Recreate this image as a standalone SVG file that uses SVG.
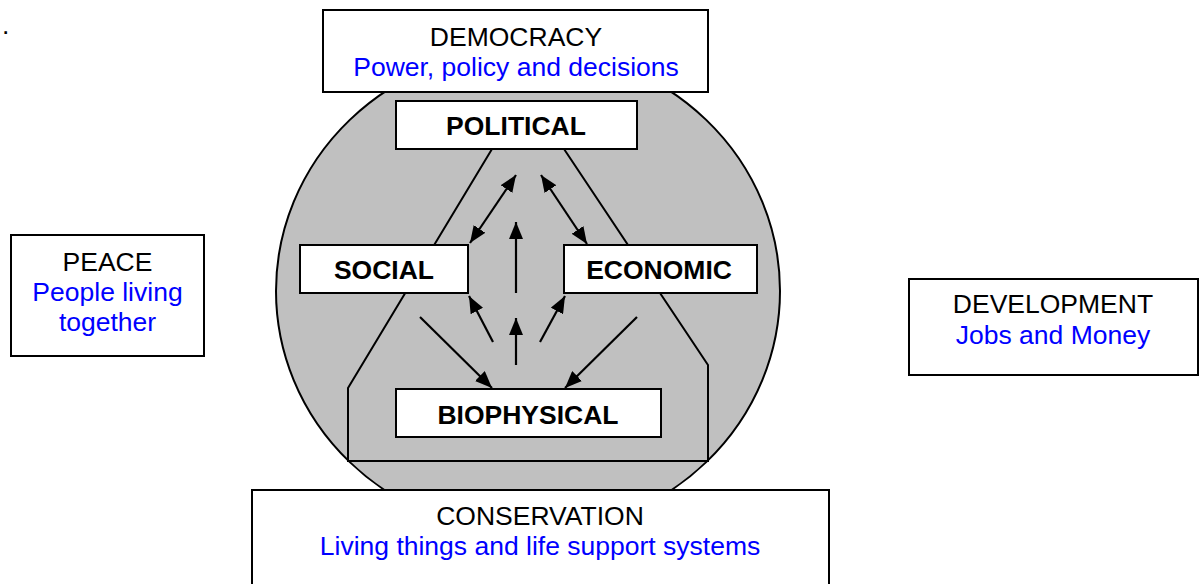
<svg xmlns="http://www.w3.org/2000/svg" width="1202" height="584" viewBox="0 0 1202 584">
<style>
  .box { fill: #ffffff; stroke: #000000; stroke-width: 2; }
  .t { font-family: "Liberation Sans", Arial, sans-serif; font-size: 26.5px; text-anchor: middle; fill: #000000; }
  .b { font-weight: bold; }
  .blue { fill: #0000ff; }
  .edge { stroke: #000000; stroke-width: 2.2; fill: none; }
</style>
<defs>
  <marker id="ah" markerUnits="userSpaceOnUse" markerWidth="18" markerHeight="14" refX="17" refY="7" orient="auto-start-reverse" viewBox="0 0 18 14">
    <path d="M0,0 L17,7 L0,14 Z" fill="#000000"/>
  </marker>
</defs>
<rect x="0" y="0" width="1202" height="584" fill="#ffffff"/>
<text class="t" x="2" y="34" style="text-anchor:start">.</text>

<g id="sphere">
  <ellipse cx="528" cy="291" rx="252" ry="242" fill="#c0c0c0" stroke="#000000" stroke-width="2"/>
  <polyline points="492,149 348,388 348,461 708,461 708,365 564,149" fill="none" stroke="#000000" stroke-width="2"/>
</g>

<g id="connectors">
  <line class="edge" x1="470" y1="243" x2="516" y2="175" marker-start="url(#ah)" marker-end="url(#ah)"/>
  <line class="edge" x1="541" y1="175" x2="587" y2="244" marker-start="url(#ah)" marker-end="url(#ah)"/>
  <line class="edge" x1="516" y1="293" x2="516" y2="222" marker-end="url(#ah)"/>
  <line class="edge" x1="493" y1="342" x2="469" y2="296" marker-end="url(#ah)"/>
  <line class="edge" x1="516" y1="365" x2="516" y2="318" marker-end="url(#ah)"/>
  <line class="edge" x1="540" y1="342" x2="565" y2="296" marker-end="url(#ah)"/>
  <line class="edge" x1="420" y1="317" x2="492" y2="388" marker-end="url(#ah)"/>
  <line class="edge" x1="637" y1="317" x2="565" y2="388" marker-end="url(#ah)"/>
</g>

<g id="democracy">
  <rect class="box" x="323" y="10" width="385" height="82"/>
  <text class="t" x="516" y="46">DEMOCRACY</text>
  <text class="t blue" x="516" y="76">Power, policy and decisions</text>
</g>

<g id="political">
  <rect class="box" x="396" y="101" width="241" height="48"/>
  <text class="t b" x="516" y="135">POLITICAL</text>
</g>

<g id="social">
  <rect class="box" x="300" y="245" width="168" height="48"/>
  <text class="t b" x="384" y="279">SOCIAL</text>
</g>

<g id="economic">
  <rect class="box" x="564" y="245" width="193" height="48"/>
  <text class="t b" x="659" y="279">ECONOMIC</text>
</g>

<g id="biophysical">
  <rect class="box" x="396" y="389" width="265" height="48"/>
  <text class="t b" x="528" y="424">BIOPHYSICAL</text>
</g>

<g id="conservation">
  <rect class="box" x="252" y="490" width="577" height="120"/>
  <text class="t" x="540" y="525">CONSERVATION</text>
  <text class="t blue" x="540" y="555">Living things and life support systems</text>
</g>

<g id="peace">
  <rect class="box" x="11" y="235" width="193" height="121"/>
  <text class="t" x="107.5" y="271">PEACE</text>
  <text class="t blue" x="107.5" y="301">People living</text>
  <text class="t blue" x="107.5" y="331">together</text>
</g>

<g id="development">
  <rect class="box" x="909" y="279" width="289" height="96"/>
  <text class="t" x="1053" y="313">DEVELOPMENT</text>
  <text class="t blue" x="1053" y="344">Jobs and Money</text>
</g>
</svg>
